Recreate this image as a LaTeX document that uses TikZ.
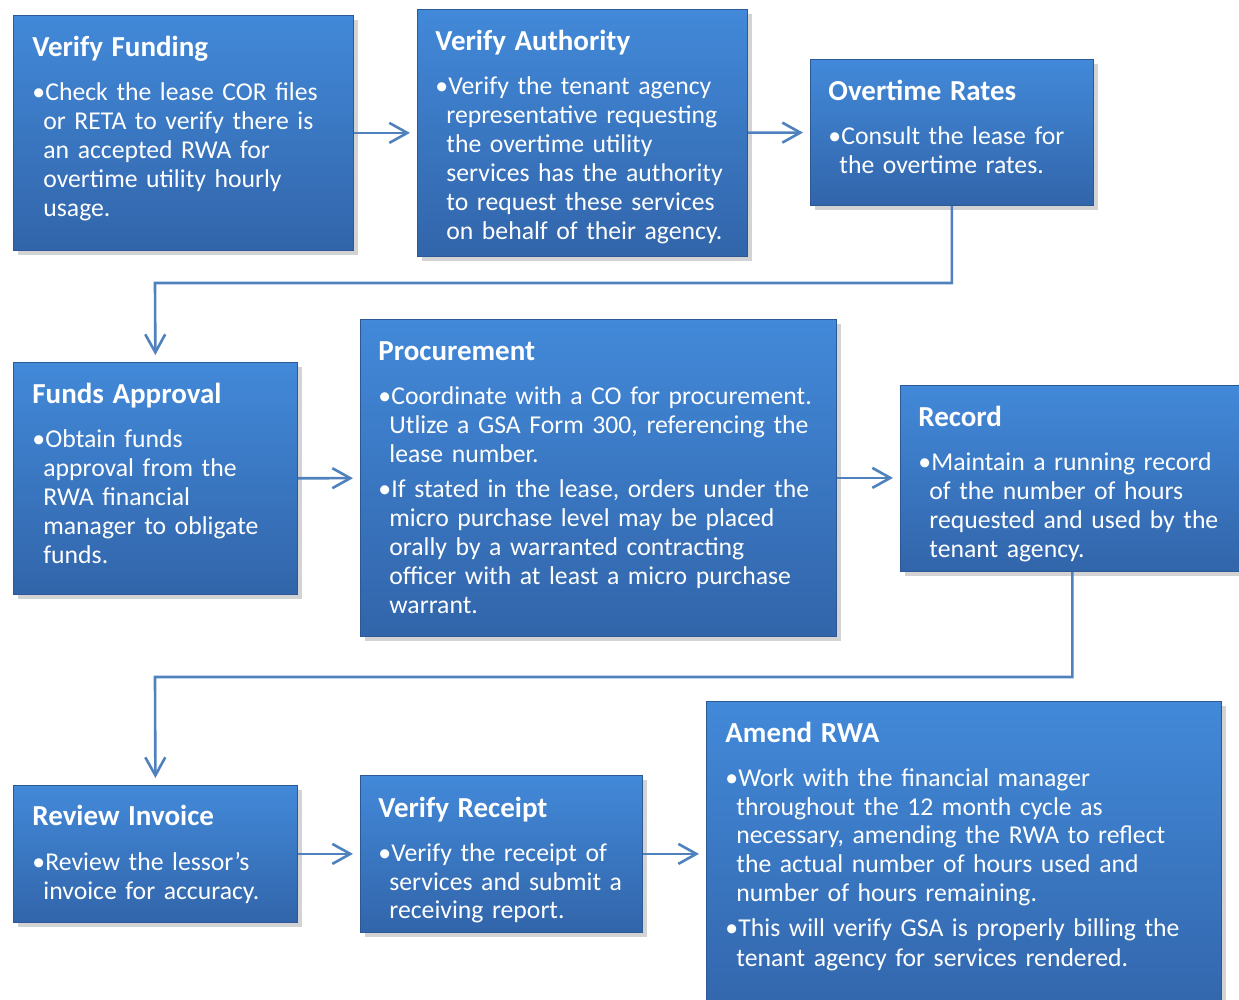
\documentclass[tikz,border=0pt]{standalone}
\usepackage{fontspec}
\setmainfont{Carlito}
\usetikzlibrary{arrows.meta,shadows}

\definecolor{boxtop}{RGB}{66,137,217}
\definecolor{boxbot}{RGB}{50,101,170}
\definecolor{boxedge}{RGB}{44,88,150}
\definecolor{flowblue}{RGB}{79,129,189}

\newcommand{\steptitle}[1]{{\fontsize{14.5}{17}\selectfont\bfseries #1\par}\vspace{7.5pt}}
\newcommand{\bul}{\par\hangindent=5.5pt\hangafter=1\noindent\makebox[6.5pt][l]{\textbullet}}
\newcommand{\nl}{\newline}

\begin{document}
\begin{tikzpicture}[x=0.5pt, y=-0.5pt]
	\useasboundingbox (0,0) rectangle (1239,1000);
	\clip (0,0) rectangle (1239,1000);
	\begin{scope}[every node/.style = {anchor=north west, inner sep=0pt, draw=boxedge, thin,
			top color=boxtop, bottom color=boxbot,
			drop shadow={shadow xshift=2.5pt, shadow yshift=-2.5pt, opacity=0.35}}]
		\node[minimum width=170pt, minimum height=117.5pt] (fund) at (13,15) {};
		\node[minimum width=165pt, minimum height=123.5pt] (auth) at (417,9) {};
		\node[minimum width=141.5pt, minimum height=73pt] (rates) at (810,59) {};
		\node[minimum width=142pt, minimum height=116pt] (funds) at (13,362) {};
		\node[minimum width=238pt, minimum height=158.5pt] (proc) at (360,319) {};
		\node[minimum width=172pt, minimum height=93pt] (rec) at (900,385) {};
		\node[minimum width=142pt, minimum height=68.5pt] (rev) at (13,785) {};
		\node[minimum width=141pt, minimum height=78.5pt] (recv) at (360,775) {};
		\node[minimum width=257.5pt, minimum height=160pt] (amend) at (706,701) {};
	\end{scope}
	\begin{scope}[every node/.style = {anchor=base west, inner sep=0pt, text=white, align=left,
			font=\fontsize{12.85}{14.5}\selectfont}]
		\node[text width=160pt] (fund-t) at ([shift={(19,42)}]fund.north west)
			{\steptitle{Verify Funding}\bul Check the lease COR files\nl or RETA to verify there is\nl an accepted RWA for\nl overtime utility hourly\nl usage.\par};
		\node[text width=156pt] (auth-t) at ([shift={(18,42)}]auth.north west)
			{\steptitle{Verify Authority}\bul Verify the tenant agency\nl representative requesting\nl the overtime utility\nl services has the authority\nl to request these services\nl on behalf of their agency.\par};
		\node[text width=130pt] (rates-t) at ([shift={(18,42)}]rates.north west)
			{\steptitle{Overtime Rates}\bul Consult the lease for\nl the overtime rates.\par};
		\node[text width=130pt] (funds-t) at ([shift={(19,42)}]funds.north west)
			{\steptitle{Funds Approval}\bul Obtain funds\nl approval from the\nl RWA financial\nl manager to obligate\nl funds.\par};
		\node[text width=226pt] (proc-t) at ([shift={(18,42)}]proc.north west)
			{\steptitle{Procurement}\bul Coordinate with a CO for procurement.\nl Utlize a GSA Form 300, referencing the\nl lease number.\par\vspace{3pt}
			\bul If stated in the lease, orders under the\nl micro purchase level may be placed\nl orally by a warranted contracting\nl officer with at least a micro purchase\nl warrant.\par};
		\node[text width=156pt] (rec-t) at ([shift={(18,42)}]rec.north west)
			{\steptitle{Record}\bul Maintain a running record\nl of the number of hours\nl requested and used by the\nl tenant agency.\par};
		\node[text width=130pt] (rev-t) at ([shift={(19,41)}]rev.north west)
			{\steptitle{Review Invoice}\bul Review the lessor’s\nl invoice for accuracy.\par};
		\node[text width=130pt] (recv-t) at ([shift={(18,42)}]recv.north west)
			{\steptitle{Verify Receipt}\bul Verify the receipt of\nl services and submit a\nl receiving report.\par};
		\node[text width=240pt] (amend-t) at ([shift={(19,41)}]amend.north west)
			{\steptitle{Amend RWA}\bul Work with the financial manager\nl throughout the 12 month cycle as\nl necessary, amending the RWA to reflect\nl the actual number of hours used and\nl number of hours remaining.\par\vspace{3pt}
			\bul This will verify GSA is properly billing the\nl tenant agency for services rendered.\par};
	\end{scope}
	\coordinate (bend1) at (155,283);
	\coordinate (bend2) at (155,677);
	\begin{scope}[every path/.style = {draw=flowblue, line width=1.3pt, shorten >=3.5pt,
			-{Straight Barb[length=9pt, width=10pt]}}]
		\path (fund) -- (auth);
		\path (auth) -- (rates);
		\path (rates.south) |- (bend1) -- (funds.north);
		\path (funds) -- (proc);
		\path (proc) -- (proc -| rec.west);
		\path (rec.south) |- (bend2) -- (rev.north);
		\path (rev) -- (recv);
		\path (recv.east) -- (recv.east -| amend.west);
	\end{scope}
\end{tikzpicture}
\end{document}
